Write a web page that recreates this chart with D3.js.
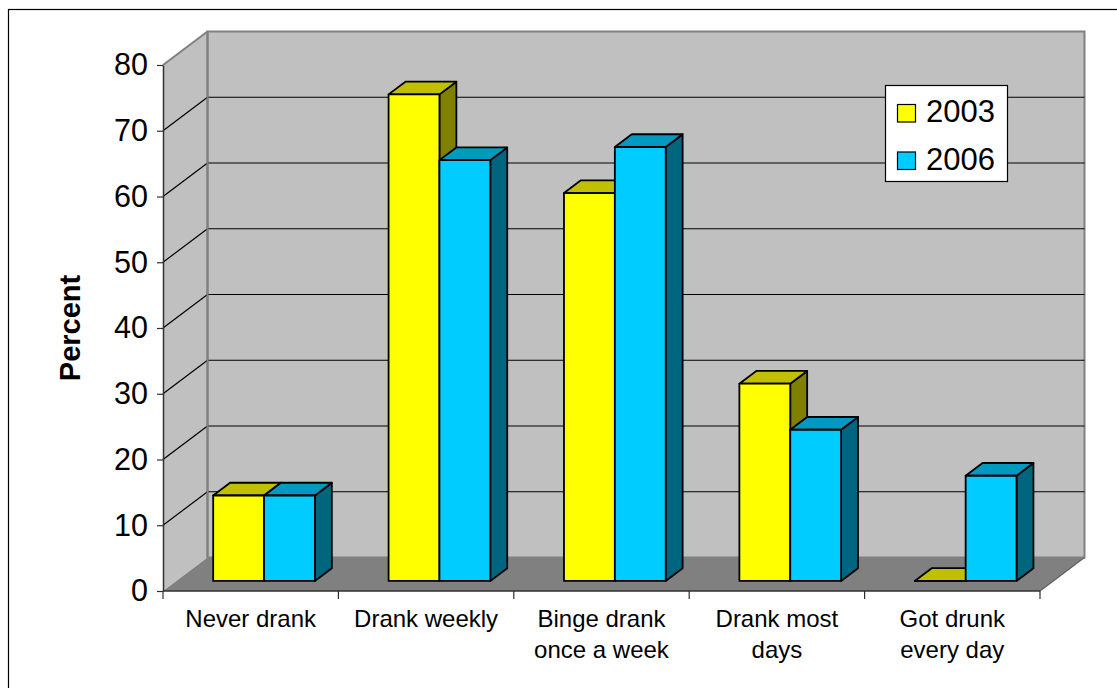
<!DOCTYPE html>
<html><head><meta charset="utf-8">
<script src="https://cdn.jsdelivr.net/npm/d3@7"></script>
<style>
html,body{margin:0;padding:0;background:#fff;}
svg{display:block;font-family:"Liberation Sans",Arial,sans-serif;}
</style></head>
<body>
<svg id="chart" width="1117" height="688"></svg>
<script>
const categories = ["Never drank","Drank weekly","Binge drank once a week","Drank most days","Got drunk every day"];
const categoryLabelLines = [["Never drank"],["Drank weekly"],["Binge drank","once a week"],["Drank most","days"],["Got drunk","every day"]];
const seriesNames = ["2003","2006"];
const values2003 = [13,74,59,30,0];
const values2006 = [13,64,66,23,16];
const yTickValues = [0,10,20,30,40,50,60,70,80];
const frontColors = ["#FFFF00","#00CCFF"];
const topColors = ["#C0C000","#0099BF"];
const sideColors = ["#808000","#006680"];

const svg = d3.select("#chart");

// outer chart-area border
svg.append("rect").attr("x",8.5).attr("y",9.5).attr("width",1130).attr("height",700)
  .attr("fill","#fff").attr("stroke","#000").attr("stroke-width",1.2);

const left = 163, right = 1040, y0 = 591, y80 = 65;
const depthDX = 44.5, depthDY = -33.5;
const x = d3.scaleBand().domain(categories).range([left,right]).paddingInner(0).paddingOuter(0);
const y = d3.scaleLinear().domain([0,80]).range([y0,y80]);
const P = (px, v, z) => [px + z*depthDX, y(v) + z*depthDY];
const poly = pts => "M" + pts.map(p=>p.join(",")).join("L") + "Z";

const g = svg.append("g");
g.append("path").attr("d", poly([P(left,0,0),P(left,80,0),P(left,80,1),P(left,0,1)]))
  .attr("fill","#C0C0C0").attr("stroke","none");
g.append("path").attr("d", poly([P(left,0,1),P(left,80,1),P(right,80,1),P(right,0,1)]))
  .attr("fill","#C0C0C0").attr("stroke","#808080").attr("stroke-width",2);
g.append("path").attr("d", poly([P(left,0,0),P(right,0,0),P(right,0,1),P(left,0,1)]))
  .attr("fill","#808080").attr("stroke","none");

const gridVals = yTickValues.filter(v=>v>0 && v<80);
g.selectAll(".gridback").data(gridVals).join("line")
  .attr("x1",d=>P(left,d,1)[0]).attr("y1",d=>P(left,d,1)[1])
  .attr("x2",d=>P(right,d,1)[0]).attr("y2",d=>P(right,d,1)[1])
  .attr("stroke","#000").attr("stroke-width",1.2);
g.selectAll(".gridside").data(gridVals).join("line")
  .attr("x1",d=>P(left,d,0)[0]).attr("y1",d=>P(left,d,0)[1])
  .attr("x2",d=>P(left,d,1)[0]).attr("y2",d=>P(left,d,1)[1])
  .attr("stroke","#000").attr("stroke-width",1.2);
g.append("line").attr("x1",P(left,80,0)[0]).attr("y1",P(left,80,0)[1])
  .attr("x2",P(left,80,1)[0]).attr("y2",P(left,80,1)[1]).attr("stroke","#808080").attr("stroke-width",2);
g.append("line").attr("x1",P(left,80,1)[0]).attr("y1",P(left,80,1)[1])
  .attr("x2",P(left,0,1)[0]).attr("y2",P(left,0,1)[1]).attr("stroke","#808080").attr("stroke-width",2);
g.append("line").attr("x1",P(right,0,0)[0]).attr("y1",P(right,0,0)[1])
  .attr("x2",P(right,0,1)[0]).attr("y2",P(right,0,1)[1]).attr("stroke","#606060").attr("stroke-width",1.2);

const zFront = 0.30, zBack = 0.68;
const barW = x.bandwidth()*0.29;
const series = [values2003, values2006];
const bars = g.append("g");
categories.forEach((c,i)=>{
  const cx = x(c) + x.bandwidth()/2;
  series.forEach((vals,s)=>{
    const v = vals[i];
    const x1 = cx - barW + s*barW, x2 = x1 + barW;
    const front = [P(x1,0,zFront),P(x1,v,zFront),P(x2,v,zFront),P(x2,0,zFront)];
    const top = [P(x1,v,zFront),P(x1,v,zBack),P(x2,v,zBack),P(x2,v,zFront)];
    const side = [P(x2,0,zFront),P(x2,v,zFront),P(x2,v,zBack),P(x2,0,zBack)];
    const attrs = (sel,fill)=>sel.attr("fill",fill).attr("stroke","#000").attr("stroke-width",1.8).attr("stroke-linejoin","round");
    attrs(bars.append("path").attr("d",poly(side)), sideColors[s]);
    attrs(bars.append("path").attr("d",poly(top)), topColors[s]);
    attrs(bars.append("path").attr("d",poly(front)), frontColors[s]);
  });
});

const yAxis = d3.axisLeft(y).tickValues(yTickValues).tickSize(6).tickSizeOuter(0).tickPadding(9);
const ya = svg.append("g").attr("transform",`translate(${left},0)`).call(yAxis);
ya.select(".domain").attr("stroke","#303030").attr("stroke-width",1.5);
ya.selectAll(".tick line").attr("stroke","#303030").attr("stroke-width",1.2);
ya.selectAll(".tick text").attr("font-size",30.5).attr("fill","#000")
  .attr("font-family","'Liberation Sans',Arial,sans-serif");

svg.append("line").attr("x1",left).attr("x2",right).attr("y1",y0).attr("y2",y0)
  .attr("stroke","#303030").attr("stroke-width",1.5);
const bounds = categories.map(c=>x(c)).concat([x(categories[categories.length-1])+x.bandwidth()]);
svg.selectAll(".xtick").data(bounds).join("line")
  .attr("x1",d=>d).attr("x2",d=>d).attr("y1",y0).attr("y2",y0+8)
  .attr("stroke","#303030").attr("stroke-width",1.2);
categories.forEach((c,i)=>{
  const t = svg.append("text").attr("text-anchor","middle").attr("font-size",24).attr("fill","#000")
    .attr("x", x(c)+x.bandwidth()/2).attr("y", 627);
  categoryLabelLines[i].forEach((ln,k)=>{
    t.append("tspan").attr("x", x(c)+x.bandwidth()/2).attr("dy", k===0?0:31).text(ln);
  });
});

svg.append("text").attr("transform","translate(80,328) rotate(-90)")
  .attr("text-anchor","middle").attr("font-size",29).attr("font-weight","bold").text("Percent");

const lg = svg.append("g");
lg.append("rect").attr("x",885.5).attr("y",85.5).attr("width",122).attr("height",96)
  .attr("fill","#fff").attr("stroke","#000").attr("stroke-width",1.2);
seriesNames.forEach((n,s)=>{
  lg.append("rect").attr("x",897.5).attr("y",104.5+s*47.5).attr("width",18).attr("height",17.5)
    .attr("fill",frontColors[s]).attr("stroke","#000").attr("stroke-width",1.2);
  lg.append("text").attr("x",926).attr("y",122+s*48).attr("font-size",31).attr("fill","#000").text(n);
});
</script>
</body></html>
